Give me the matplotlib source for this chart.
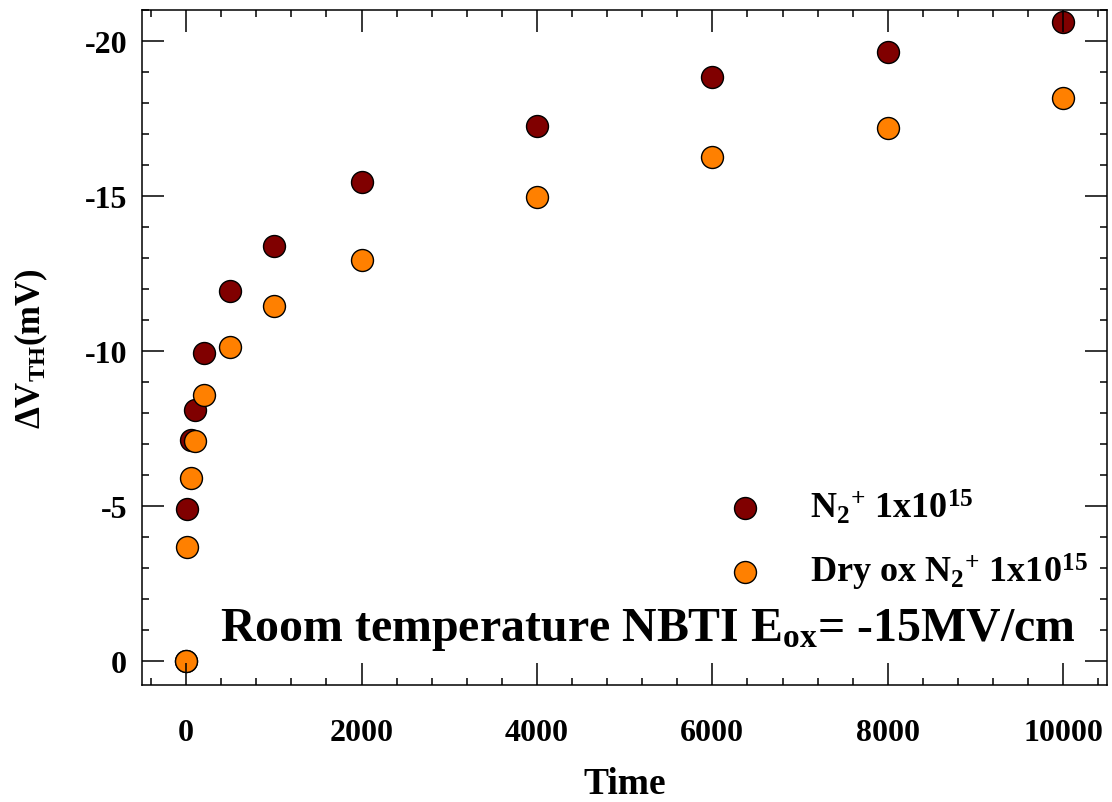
import matplotlib
matplotlib.use('Agg')
import matplotlib.pyplot as plt
from matplotlib.ticker import MultipleLocator

# fonts: Times-like bold everywhere
plt.rcParams['font.family'] = ['Liberation Serif', 'DejaVu Serif']
plt.rcParams['font.weight'] = 'bold'
plt.rcParams['axes.unicode_minus'] = False
plt.rcParams['mathtext.fontset'] = 'custom'
plt.rcParams['mathtext.rm'] = 'Liberation Serif:bold'
plt.rcParams['mathtext.it'] = 'Liberation Serif:bold'
plt.rcParams['mathtext.bf'] = 'Liberation Serif:bold'

# data
time_n2 = [0, 10, 50, 100, 200, 500, 1000, 2000, 4000, 6000, 8000, 10000]
dvth_n2 = [0, -4.9, -7.15, -8.1, -9.95, -11.95, -13.4, -15.45, -17.25, -18.85, -19.65, -20.6]
time_dry = [0, 10, 50, 100, 200, 500, 1000, 2000, 4000, 6000, 8000, 10000]
dvth_dry = [0, -3.7, -5.9, -7.1, -8.6, -10.15, -11.45, -12.95, -14.97, -16.27, -17.2, -18.15]

label_n2 = r'N$_{\mathrm{2}}$$^{\mathrm{+}}$ 1x10$^{\mathrm{15}}$'
label_dry = r'Dry ox N$_{\mathrm{2}}$$^{\mathrm{+}}$ 1x10$^{\mathrm{15}}$'

fig = plt.figure(figsize=(11.12, 8.03), dpi=100)
ax = fig.add_axes([0.128, 0.1461, 0.8675, 0.8402])

ax.scatter(time_n2, dvth_n2, s=250, c='#800000', edgecolors='black',
           linewidths=1, label=label_n2, zorder=1)
ax.scatter(time_dry, dvth_dry, s=250, c='#FF8000', edgecolors='black',
           linewidths=1, label=label_dry, zorder=1)

ax.set_xlim(-500, 10500)
ax.set_ylim(0.75, -21)
ax.xaxis.set_major_locator(MultipleLocator(2000))
ax.xaxis.set_minor_locator(MultipleLocator(400))
ax.yaxis.set_major_locator(MultipleLocator(5))
ax.yaxis.set_minor_locator(MultipleLocator(1))
ax.tick_params(which='both', direction='in', top=True, right=True, width=1.1)
ax.tick_params(which='major', length=16, labelsize=23)
ax.tick_params(axis='x', which='major', pad=24)
ax.tick_params(axis='y', which='major', pad=11)
ax.tick_params(which='minor', length=5)
for sp in ax.spines.values():
    sp.set_linewidth(1.1)

ax.set_xlabel('Time', fontsize=27, fontweight='bold', labelpad=14)
ax.set_ylabel(r'ΔV$_{\mathrm{TH}}$(mV)', fontsize=25, fontweight='bold', labelpad=25)

leg = ax.legend(loc='lower right', bbox_to_anchor=(1.006, 0.1), frameon=False,
                fontsize=26, handletextpad=0.8, labelspacing=0.7,
                markerscale=1.0, borderaxespad=0.3)
for t in leg.get_texts():
    t.set_fontweight('bold')

ax.text(0.524, 0.082, r'Room temperature NBTI E$_{\mathrm{ox}}$= -15MV/cm',
        transform=ax.transAxes, fontsize=34.5, fontweight='bold',
        ha='center', va='center')

fig.savefig('out.png', dpi=100)
